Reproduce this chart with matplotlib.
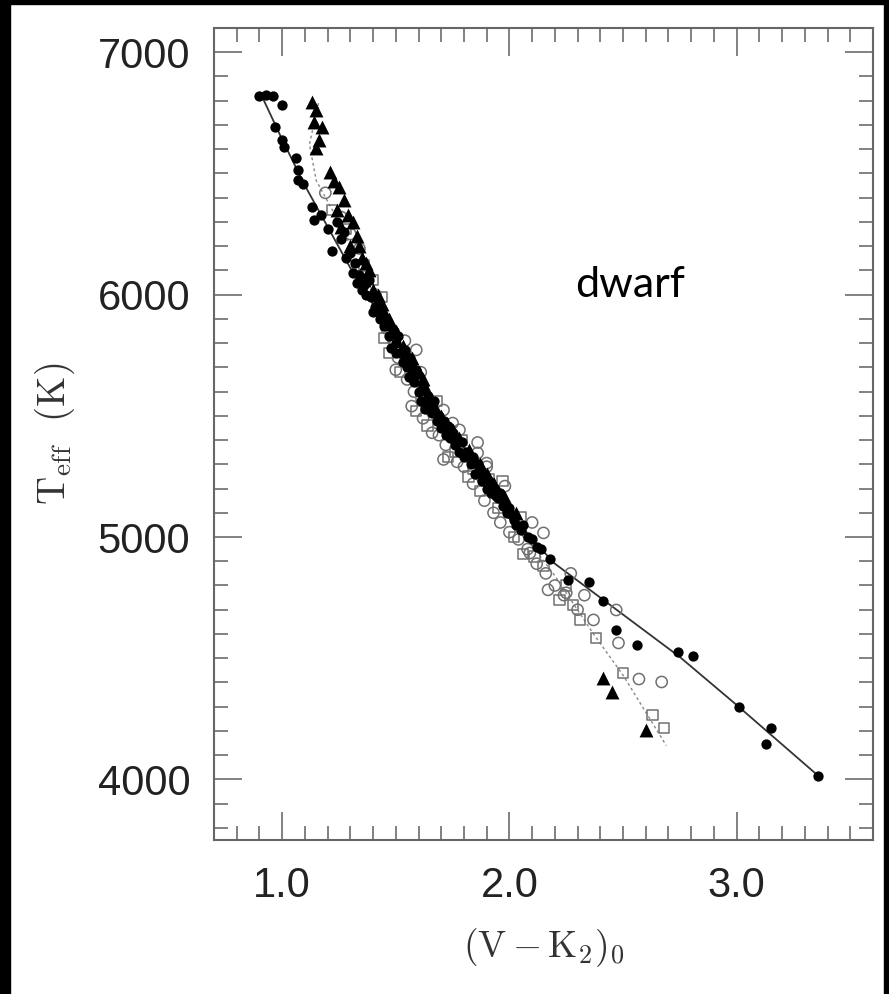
import matplotlib
matplotlib.use("Agg")
import matplotlib.pyplot as plt
from matplotlib.ticker import MultipleLocator, FixedLocator, FormatStrFormatter
from matplotlib.patches import Rectangle

plt.rcParams['mathtext.fontset'] = 'cm'

# filled circles
fc_x = [0.90, 0.93, 0.96, 1.00, 0.97, 1.00, 1.01, 1.06, 1.07, 1.07, 1.09, 1.14, 1.13, 1.17, 1.20,
        1.22, 1.26, 1.28, 1.31, 1.33, 1.35, 1.37, 1.38, 1.41, 1.43, 1.45, 1.47, 1.48, 1.50, 1.52,
        1.53, 1.55, 1.56, 1.58, 1.60, 1.61, 1.63, 1.66, 1.68, 1.70, 1.72, 1.74, 1.76, 1.78, 1.80,
        1.83, 1.85, 1.88, 1.90, 1.92, 1.95, 1.97, 1.99, 2.02, 2.05, 2.08, 2.12, 2.18, 2.26, 2.35,
        2.41, 2.47, 2.56, 2.74, 2.81, 3.01, 3.15, 3.13, 3.36,
        1.24, 1.27, 1.30, 1.32, 1.34, 1.36, 1.39, 1.40, 1.42, 1.44, 1.46, 1.49, 1.50, 1.51, 1.54,
        1.55, 1.57, 1.59, 1.62, 1.64, 1.65, 1.67, 1.69, 1.71, 1.73, 1.75, 1.77, 1.79, 1.81, 1.84,
        1.86, 1.87, 1.89, 1.91, 1.93, 1.94, 1.96, 1.98, 2.00, 2.01, 2.03, 2.06, 2.10, 2.14]
fc_y = [6820, 6822, 6818, 6782, 6692, 6638, 6609, 6564, 6514, 6473, 6455, 6308, 6360, 6330, 6270,
        6180, 6230, 6150, 6090, 6050, 6020, 6000, 6060, 5950, 5900, 5870, 5830, 5780, 5800, 5760,
        5720, 5700, 5660, 5640, 5600, 5560, 5530, 5510, 5480, 5450, 5420, 5410, 5380, 5350, 5330,
        5300, 5260, 5230, 5200, 5180, 5160, 5130, 5100, 5070, 5030, 5000, 4960, 4910, 4823, 4815,
        4736, 4617, 4555, 4526, 4509, 4299, 4212, 4146, 4014,
        6300, 6260, 6170, 6130, 6080, 6040, 5990, 5930, 5960, 5920, 5890, 5850, 5760, 5830, 5770,
        5740, 5680, 5690, 5620, 5580, 5540, 5560, 5500, 5480, 5460, 5430, 5400, 5390, 5350, 5330,
        5300, 5270, 5250, 5230, 5200, 5170, 5180, 5140, 5120, 5090, 5050, 5050, 4990, 4950]

# filled triangles
tr_x = [1.13, 1.15, 1.14, 1.175, 1.16, 1.15, 1.21, 1.25, 1.23, 1.27, 1.24, 1.29, 1.31, 1.26, 1.33,
        1.30, 1.35, 1.38, 1.36, 1.40, 1.44, 1.47, 1.50, 1.53, 1.57, 1.60, 1.63, 1.65, 1.70, 1.75,
        1.82, 1.87, 1.93, 1.98, 2.03, 2.41, 2.45, 2.60,
        1.34, 1.37, 1.42, 1.45, 1.48, 1.55, 1.58, 1.62, 1.67, 1.72, 1.78, 1.85, 1.90, 1.95]
tr_y = [6795, 6762, 6712, 6692, 6638, 6605, 6506, 6444, 6470, 6390, 6350, 6330, 6300, 6280, 6240,
        6200, 6150, 6100, 6060, 6020, 5960, 5900, 5850, 5790, 5740, 5680, 5620, 5570, 5500, 5440,
        5360, 5300, 5220, 5160, 5100, 4418, 4361, 4204,
        6200, 6130, 6000, 5930, 5880, 5760, 5700, 5650, 5540, 5470, 5410, 5320, 5260, 5190]

# open circles
oc_x = [1.19, 1.26, 1.30, 1.34, 1.33, 1.38, 1.41, 1.43, 1.46, 1.49, 1.51, 1.50, 1.55, 1.58, 1.57,
        1.62, 1.66, 1.69, 1.72, 1.71, 1.77, 1.80, 1.84, 1.86, 1.89, 1.93, 1.96, 2.00, 2.04, 2.08,
        2.12, 2.16, 2.20, 2.24, 2.30, 2.33, 2.37, 2.47, 2.48, 2.57, 2.67, 1.54, 1.61, 1.75, 1.90,
        1.98, 2.10, 2.27, 1.59, 1.71, 1.78, 1.86, 1.90, 2.15, 2.09, 2.17, 2.25, 1.63, 1.66]
oc_y = [6420, 6320, 6250, 6190, 6120, 6030, 6000, 5930, 5860, 5810, 5740, 5690, 5650, 5600, 5540,
        5490, 5540, 5420, 5380, 5320, 5310, 5290, 5220, 5390, 5150, 5100, 5060, 5020, 4990, 4950,
        4890, 4850, 4800, 4760, 4700, 4760, 4658, 4699, 4563, 4414, 4402, 5810, 5680, 5470, 5290,
        5210, 5060, 4850, 5772, 5524, 5442, 5347, 5305, 5017, 4934, 4782, 4770, 5565, 5430]

# open squares
sq_x = [1.22, 1.28, 1.36, 1.40, 1.44, 1.47, 1.52, 1.56, 1.59, 1.64, 1.68, 1.73, 1.79, 1.82, 1.87,
        1.91, 1.95, 2.02, 2.06, 2.11, 2.15, 2.22, 2.28, 2.31, 2.38, 2.50, 2.63, 2.68, 2.25, 1.97,
        1.45, 1.61, 1.76, 1.84, 2.05]
sq_y = [6350, 6270, 6120, 6060, 5990, 5760, 5680, 5720, 5520, 5460, 5560, 5330, 5400, 5250, 5190,
        5240, 5120, 5000, 4930, 4920, 4880, 4740, 4720, 4660, 4584, 4439, 4266, 4212, 4800, 5230,
        5820, 5580, 5350, 5280, 5080]

# solid fit
fit_x = [0.91, 1.00, 1.10, 1.20, 1.30, 1.40, 1.50, 1.60, 1.70, 1.80, 1.90, 2.00, 2.10, 2.20, 2.30,
         2.50, 2.75, 3.00, 3.36]
fit_y = [6820, 6640, 6450, 6280, 6110, 5960, 5810, 5660, 5510, 5370, 5240, 5110, 4990, 4890, 4820,
         4680, 4505, 4307, 4014]

# dashed fit
fit2_x = [1.16, 1.12, 1.15, 1.25, 1.40, 1.60, 1.80, 2.00, 2.20, 2.37, 2.50, 2.69]
fit2_y = [6790, 6620, 6470, 6300, 6000, 5640, 5340, 5090, 4840, 4600, 4430, 4140]

xticks = [1.0, 2.0, 3.0]
yticks = [4000, 5000, 6000, 7000]

fig = plt.figure(figsize=(8.89, 9.94), dpi=100)
ax = fig.add_axes([214/889, 1 - 840/994, 659/889, 812/994])

ax.plot(fit2_x, fit2_y, color='#888888', lw=1.0, ls=(0, (2, 2)), zorder=1)
ax.plot(fit_x, fit_y, color='#333333', lw=1.3, zorder=2)
ax.scatter(oc_x, oc_y, s=65, facecolors='none', edgecolors='#707070', linewidths=1.1, zorder=3)
ax.scatter(sq_x, sq_y, s=55, marker='s', facecolors='none', edgecolors='#707070', linewidths=1.1, zorder=3)
ax.scatter(tr_x, tr_y, s=100, marker='^', color='black', linewidths=0, zorder=4)
ax.scatter(fc_x, fc_y, s=55, color='black', linewidths=0, zorder=5)

ax.set_xlim(0.7, 3.6)
ax.set_ylim(3750, 7100)
ax.xaxis.set_major_locator(FixedLocator(xticks))
ax.yaxis.set_major_locator(FixedLocator(yticks))
ax.xaxis.set_major_formatter(FormatStrFormatter('%.1f'))
ax.xaxis.set_minor_locator(MultipleLocator(0.1))
ax.yaxis.set_minor_locator(MultipleLocator(100))

for sp in ax.spines.values():
    sp.set_color('#666666')
    sp.set_linewidth(1.5)

ax.tick_params(which='both', direction='in', top=True, right=True, color='#777777', width=1.3,
               labelcolor='#222222')
ax.tick_params(which='major', length=20)
ax.tick_params(which='minor', length=10)
ax.tick_params(axis='x', which='major', pad=19)
ax.tick_params(axis='y', which='major', pad=17)
for lab in ax.get_xticklabels() + ax.get_yticklabels():
    lab.set_family('Liberation Sans')
    lab.set_fontsize(30)

ax.set_xlabel(r'$\mathrm{(V-K_2)_0}$', fontsize=27, color='#333333', labelpad=14)
ax.set_ylabel(r'$\mathrm{T_{eff}\ \ (K)}$', fontsize=28, color='#333333', labelpad=15)

ax.text(2.29, 5990, 'dwarf', family='Lato', fontsize=31, color='black', ha='left', va='baseline')

# black frame round the picture
fig.patches.append(Rectangle((0, 0), 10/889, 1, transform=fig.transFigure, color='black'))
fig.patches.append(Rectangle((0, 1 - 4/994), 1, 4/994, transform=fig.transFigure, color='black'))
fig.patches.append(Rectangle((1 - 5/889, 0), 5/889, 1, transform=fig.transFigure, color='black'))

fig.savefig('out.png', dpi=100)
